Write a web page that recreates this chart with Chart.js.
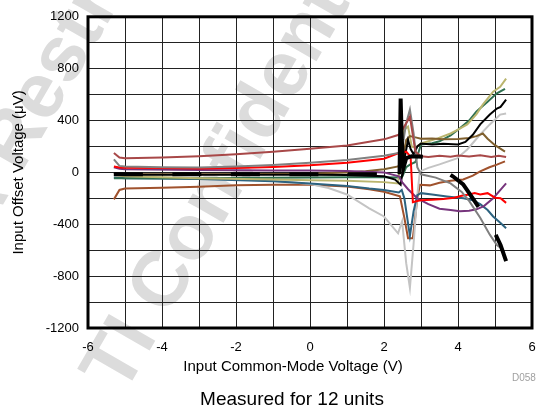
<!DOCTYPE html>
<html>
<head>
<meta charset="utf-8">
<script src="https://cdn.jsdelivr.net/npm/chart.js@4.4.1/dist/chart.umd.min.js"></script>
<style>
  html, body { margin: 0; padding: 0; background: #fff; }
  canvas { display: block; }
</style>
</head>
<body>
<canvas id="chart" width="554" height="413"></canvas>
<script>
// x ticks (V) and y ticks (uV)
const xTicks = [-6, -4, -2, 0, 2, 4, 6];
const yTicks = [-1200, -800, -400, 0, 400, 800, 1200];

const unitNames = ["Unit 1", "Unit 2", "Unit 3", "Unit 4", "Unit 5", "Unit 6",
                   "Unit 7", "Unit 8", "Unit 9", "Unit 10", "Unit 11", "Unit 12"];
const unitColors = ["#000000", "#A84848", "#808080", "#FF0000", "#76347C", "#000000",
                    "#80602E", "#BAB56E", "#2F7050", "#2D6380", "#C4C4C4", "#A0522D"];

// unit 1 (thick dashed black)
const vcm1 = [-5.3, -5, -3, -1, 0, 1, 2, 2.42, 2.45, 2.48, 2.53, 2.6, 2.75, 3.05, 3.86, 4.14, 4.4, 4.6, 4.8, 5.0, 5.15, 5.3];
const vos1 = [-12, -15, -15, -15, -15, -15, -15, -15, 570, 250, 40, 110, 125, 120, -30, -92, -200, -285, -380, -470, -560, -685];
// unit 2 (dark red)
const vcm2 = [-5.3, -5.15, -5, -4, -3, -2, -1, 0, 1, 2, 2.4, 2.5, 2.7, 2.85, 3.0, 3.2, 3.5, 3.8, 4.0, 4.3, 4.6, 4.9, 5.1, 5.3];
const vos2 = [150, 115, 110, 115, 125, 140, 160, 182, 208, 255, 290, 330, 430, 160, 125, 118, 128, 120, 130, 122, 132, 118, 128, 118];
// unit 3 (gray)
const vcm3 = [-5.3, -5.15, -5, -4, -3, -2, -1, 0, 1, 2, 2.4, 2.5, 2.6, 2.7, 2.8, 2.9, 3.0, 3.4, 3.8, 4.1, 4.3, 4.6, 4.86, 5.05, 5.15];
const vos3 = [100, 50, 45, 40, 38, 45, 58, 75, 95, 128, 150, 200, 380, 485, 300, 40, -15, -40, -85, -150, -220, -350, -480, -560, -580];
// unit 4 (red)
const vcm4 = [-5.3, -5.15, -5, -4, -3, -2, -1, 0, 1, 2, 2.4, 2.6, 2.72, 2.78, 2.9, 3.0, 3.3, 3.6, 3.9, 4.1, 4.3, 4.45, 4.6, 4.8, 5.0, 5.15, 5.3];
const vos4 = [45, 38, 35, 33, 30, 33, 42, 55, 75, 105, 150, 160, 120, -230, -220, -215, -210, -205, -195, -180, -170, -160, -170, -160, -195, -200, -235];
// unit 5 (purple)
const vcm5 = [-5.3, -5.15, -5, -3, -1, 0, 1, 2, 2.4, 2.5, 2.65, 2.9, 3.2, 3.5, 3.8, 4.05, 4.3, 4.5, 4.7, 4.95, 5.1, 5.3];
const vos5 = [40, 28, 25, 18, 15, 15, 10, 0, -30, -80, -130, -200, -245, -280, -290, -300, -295, -285, -260, -200, -150, -85];
// unit 6 (black)
const vcm6 = [-5.3, -5.15, -5, -3, -1, 0, 1, 2, 2.3, 2.45, 2.55, 2.65, 2.72, 2.8, 2.9, 3.0, 3.3, 3.6, 4.0, 4.2, 4.4, 4.6, 4.86, 5.05, 5.15, 5.3];
const vos6 = [-5, -15, -18, -18, -18, -18, -20, -30, -55, -95, 100, 250, 180, 140, 200, 223, 215, 220, 215, 235, 290, 370, 446, 492, 505, 562];
// unit 7 (olive brown)
const vcm7 = [-5.3, -5, -3, -1, 0, 1, 1.5, 2, 2.38, 2.5, 2.6, 2.7, 2.85, 3.0, 3.3, 3.6, 4.0, 4.3, 4.5, 4.67, 4.8, 5.0, 5.27];
const vos7 = [-10, -15, -15, -12, -10, 0, 8, 25, 46, 100, 250, 280, 270, 260, 262, 255, 258, 265, 280, 300, 260, 210, 160];
// unit 8 (khaki)
const vcm8 = [-5.3, -5, -3, -1, 0, 1, 2, 2.38, 2.45, 2.55, 2.65, 2.75, 2.85, 3.0, 3.2, 3.45, 3.8, 4.0, 4.25, 4.5, 4.67, 4.95, 5.14, 5.3];
const vos8 = [-20, -30, -45, -55, -60, -65, -75, -85, 120, 330, 354, 200, 190, 223, 240, 262, 300, 330, 370, 450, 523, 623, 660, 723];
// unit 9 (green)
const vcm9 = [-5.3, -5, -3, -1, 0, 1, 2, 2.4, 2.5, 2.6, 2.7, 2.85, 3.0, 3.3, 3.5, 3.8, 4.05, 4.3, 4.5, 4.8, 5.05, 5.27];
const vos9 = [-45, -45, -45, -42, -40, -38, -38, -40, -30, 40, 60, 80, 215, 225, 240, 285, 340, 400, 470, 545, 610, 645];
// unit 10 (teal)
const vcm10 = [-5.3, -5, -3, -1, 0, 1, 1.6, 2, 2.4, 2.48, 2.55, 2.7, 2.8, 2.9, 3.0, 3.3, 3.7, 4.15, 4.4, 4.6, 4.8, 4.95, 5.15, 5.3];
const vos10 = [-40, -45, -50, -68, -85, -105, -125, -135, -155, -135, -200, -490, -300, -175, -160, -170, -185, -200, -215, -245, -290, -340, -390, -430];
// unit 11 (light gray)
const vcm11 = [-5.3, -5, -3, -2, -1, 0, 0.5, 1, 1.6, 2, 2.38, 2.49, 2.6, 2.7, 2.8, 2.89, 2.97, 3.2, 3.5, 3.97, 4.25, 4.6, 4.86, 5.14, 5.3];
const vos11 = [-30, -35, -45, -55, -65, -90, -120, -170, -277, -340, -470, -377, -700, -890, -550, -200, 8, 35, 62, 108, 177, 292, 370, 446, 455];
// unit 12 (sienna)
const vcm12 = [-5.3, -5.15, -5, -4, -3, -2, -1, 0, 1, 1.6, 2, 2.43, 2.55, 2.65, 2.78, 2.9, 2.97, 3.24, 3.5, 3.8, 4.14, 4.4, 4.6, 4.85, 5.05, 5.27];
const vos12 = [-208, -135, -125, -118, -110, -100, -95, -95, -108, -130, -150, -185, -350, -507, -507, -200, -95, -100, -80, -65, -54, -25, 8, 40, 60, 85];

const allVcm = [vcm1, vcm2, vcm3, vcm4, vcm5, vcm6, vcm7, vcm8, vcm9, vcm10, vcm11, vcm12];
const allVos = [vos1, vos2, vos3, vos4, vos5, vos6, vos7, vos8, vos9, vos10, vos11, vos12];

// unit 1: dashed before the jump, solid through it, dashed again after
const jumpFrom = 7;
const jumpTo = 13;

const fontFamily = "'Liberation Sans', Arial, Helvetica, sans-serif";

function unit1Dash(c) {
    if (c.p0DataIndex < jumpFrom) return [29, 29.5];
    if (c.p0DataIndex < jumpTo) return [];
    return [43, 33];
}

function unit1DashOffset(c) {
    return c.p0DataIndex >= jumpTo ? 43 : 0;
}

const datasets = unitNames.map(function (name, i) {
    const ds = {
        label: name,
        data: allVcm[i].map(function (v, k) { return { x: v, y: allVos[i][k] }; }),
        borderColor: unitColors[i],
        borderWidth: 2,
        pointRadius: 0,
        tension: 0,
        fill: false
    };
    if (i === 0) {
        ds.borderWidth = 4;
        ds.segment = { borderDash: unit1Dash, borderDashOffset: unit1DashOffset };
    }
    return ds;
});

// watermark behind, frame + extra captions on top
const decorations = {
    id: "decorations",
    beforeDraw: function (chart) {
        const ctx = chart.ctx;
        ctx.save();
        ctx.fillStyle = "#dcdcdc";
        ctx.font = "bold 78px " + fontFamily;
        ctx.textAlign = "center";
        ctx.textBaseline = "middle";
        ctx.translate(240, 151);
        ctx.rotate(-60 * Math.PI / 180);
        ctx.fillText("TI Confidential", 0, 0);
        ctx.fillText("NDA Restrictions", 0, -200);
        ctx.restore();
    },
    afterDraw: function (chart) {
        const ctx = chart.ctx;
        const a = chart.chartArea;
        ctx.save();
        ctx.strokeStyle = "#000";
        ctx.lineWidth = 3;
        ctx.strokeRect(a.left, a.top, a.right - a.left, a.bottom - a.top);
        ctx.fillStyle = "#000";
        ctx.textAlign = "center";
        ctx.textBaseline = "middle";
        ctx.font = "15px " + fontFamily;
        ctx.fillText("Input Common-Mode Voltage (V)", 293, 367);
        ctx.font = "19px " + fontFamily;
        ctx.fillText("Measured for 12 units", 292, 400);
        ctx.fillStyle = "#a0a0a0";
        ctx.font = "10px " + fontFamily;
        ctx.textAlign = "left";
        ctx.fillText("D058", 512, 378);
        ctx.restore();
    }
};

const ctx = document.getElementById("chart").getContext("2d");
new Chart(ctx, {
    type: "line",
    data: { datasets: datasets },
    options: {
        responsive: false,
        animation: false,
        devicePixelRatio: 1,
        layout: { padding: { left: 0, right: 22, top: 15, bottom: 0 } },
        plugins: { legend: { display: false }, tooltip: { enabled: false } },
        scales: {
            x: {
                type: "linear",
                min: -6,
                max: 6,
                afterFit: function (scale) { scale.height = 85; },
                ticks: {
                    stepSize: 1,
                    color: "#000",
                    font: { family: fontFamily, size: 13 },
                    padding: 12,
                    maxRotation: 0,
                    callback: function (v) { return xTicks.includes(v) ? String(v) : ""; }
                },
                grid: { color: "#222", lineWidth: 1, drawTicks: false },
                border: { display: false }
            },
            y: {
                min: -1200,
                max: 1200,
                afterFit: function (scale) { scale.width = 88; },
                ticks: {
                    stepSize: 200,
                    color: "#000",
                    font: { family: fontFamily, size: 13 },
                    padding: 9,
                    callback: function (v) { return yTicks.includes(v) ? String(v) : ""; }
                },
                grid: { color: "#222", lineWidth: 1, drawTicks: false },
                border: { display: false },
                title: {
                    display: true,
                    text: "Input Offset Voltage (μV)",
                    color: "#000",
                    font: { family: fontFamily, size: 15 },
                    padding: { top: 10 }
                }
            }
        }
    },
    plugins: [decorations]
});
</script>
</body>
</html>
